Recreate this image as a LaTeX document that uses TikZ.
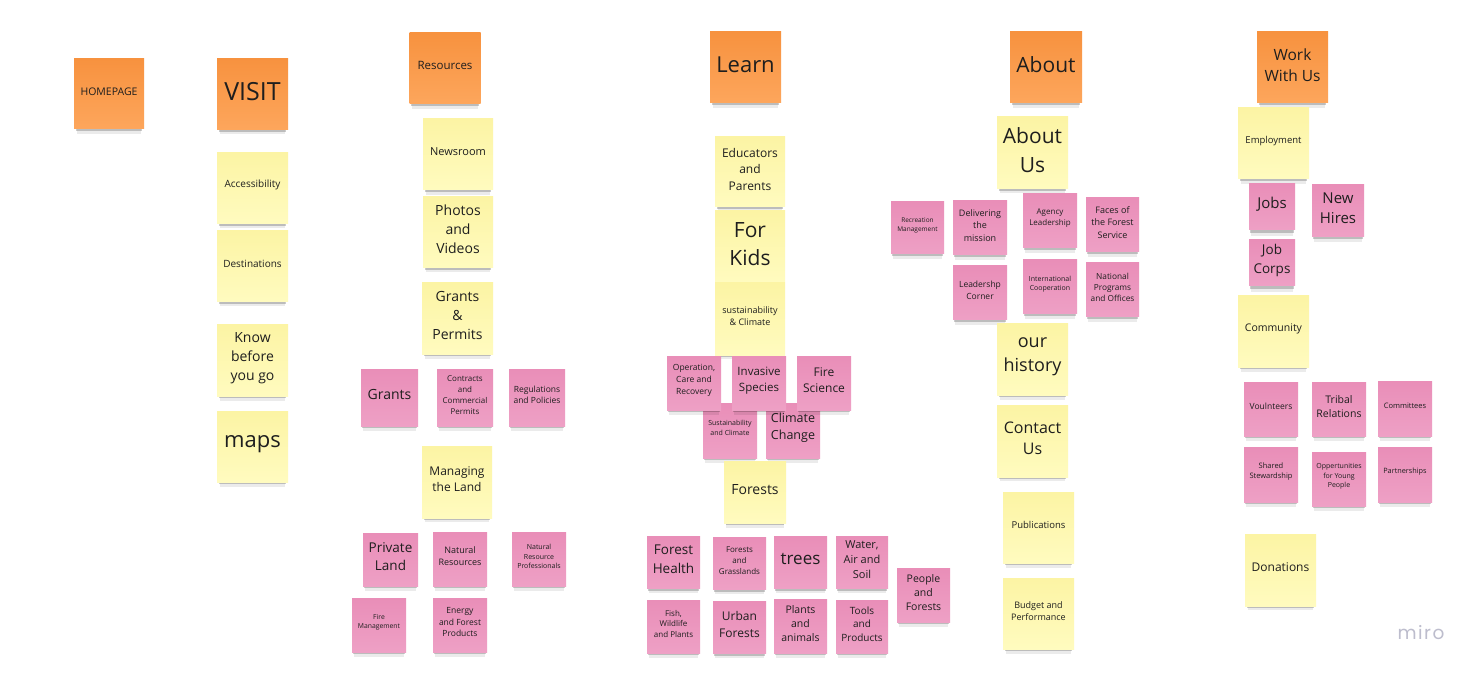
\documentclass[tikz,border=0pt]{standalone}
\usepackage{fontspec}
\setmainfont{Open Sans}
\newfontfamily\brandfont[LetterSpace=8]{Poppins}
\usetikzlibrary{shadows}
\definecolor{orangeA}{HTML}{F7923F}
\definecolor{orangeB}{HTML}{FDA65C}
\definecolor{yellowA}{HTML}{FCF4A4}
\definecolor{yellowB}{HTML}{FFFBBF}
\definecolor{pinkA}{HTML}{E98EB8}
\definecolor{pinkB}{HTML}{EEA0C5}
\definecolor{ink}{HTML}{1E1E1E}
\definecolor{brandgrey}{HTML}{BDBDCD}
% font size with a roomy line spacing
\newcommand\fsz[1]{\pgfmathsetmacro\fszbl{1.36*#1}\fontsize{#1}{\fszbl}\selectfont}
\begin{document}
\begin{tikzpicture}[x=1pt,y=-1pt,
  note/.style={inner sep=0pt, minimum width=71pt, minimum height=71pt,
    general shadow={fill=black, opacity=.08, shadow yshift=-8pt, shadow scale=.92},
    general shadow={fill=black, opacity=.20, shadow yshift=-4pt, shadow scale=.95}},
  onote/.style={note, top color=orangeA, bottom color=orangeB},
  ynote/.style={note, top color=yellowA, bottom color=yellowB},
  pnote/.style={note, top color=pinkA, bottom color=pinkB,
    minimum width=54pt, minimum height=54pt},
  % the written text of a note, set a little above its middle
  notetext/.style={inner sep=0pt, align=center, text=ink, yshift=2.6pt},
  tx/.style 2 args={label={[notetext, font=\fsz{#1}]center:{#2}}},
]
\useasboundingbox[fill=white] (0,0) rectangle (1478,676);

% --- HOMEPAGE ---
\node[onote, minimum width=70pt, minimum height=70pt, tx={10.5}{HOMEPAGE}] (home) at (109,94) {};

% --- VISIT column ---
\node[onote, tx={25}{VISIT}] (visit) at (252.5,94) {};
\node[ynote, tx={10}{Accessibility}] (access) at (252.5,188) {};
\node[ynote, tx={10}{Destinations}] (dest) at (252.5,266) {};
\node[ynote, tx={14}{Know\\before\\you go}] (know) at (252.5,360.5) {};
\node[ynote, tx={22}{maps}] (maps) at (252.5,446.5) {};

% --- Resources column ---
\node[onote, tx={11.5}{Resources}] (res) at (445,68.5) {};
\node[ynote, minimum width=70pt, tx={11}{Newsroom}] (news) at (458,154.5) {};
\node[ynote, minimum width=70pt, tx={14}{Photos\\and\\Videos}] (photos) at (458,232) {};
\node[ynote, tx={14}{Grants\\\&\\Permits}] (gp) at (457.5,318.5) {};
\node[pnote, minimum width=57pt, minimum height=57pt, tx={14}{Grants}] (grants) at (389.5,397.5) {};
\node[pnote, minimum width=56pt, minimum height=57pt, tx={8}{Contracts\\and\\Commercial\\Permits}] (contracts) at (465,397.5) {};
\node[pnote, minimum width=56pt, minimum height=57pt, tx={8.5}{Regulations\\and Policies}] (regs) at (537,397.5) {};
\node[ynote, minimum width=70pt, minimum height=72pt, tx={12}{Managing\\the Land}] (manage) at (457,482) {};
\node[pnote, minimum width=55pt, minimum height=53pt, tx={13.5}{Private\\Land}] (private) at (390.5,559.5) {};
\node[pnote, tx={9}{Natural\\Resources}] (natres) at (460,559) {};
\node[pnote, tx={7}{Natural\\Resource\\Professionals}] (natpro) at (539,559) {};
\node[pnote, tx={6.8}{Fire\\Management}] (fire) at (379,625) {};
\node[pnote, tx={8.5}{Energy\\and Forest\\Products}] (energy) at (460,625) {};

% --- Learn column ---
\node[onote, tx={22}{Learn}] (learn) at (745.5,67.5) {};
\node[ynote, minimum width=70pt, minimum height=70pt, tx={12}{Educators\\and\\Parents}] (edu) at (750,172) {};
\node[ynote, minimum width=70pt, tx={21}{For\\Kids}] (kids) at (750,246.5) {};
\node[ynote, minimum width=70pt, minimum height=72pt, tx={9}{sustainability\\\& Climate}] (sust) at (750,319) {};
\node[pnote, minimum height=55pt, tx={7}{Sustainability\\and Climate}] (sustc) at (730,430.5) {};
\node[pnote, minimum height=55pt, tx={12.5}{Climate\\Change}] (climate) at (793,430.5) {};
\node[pnote, tx={8.5}{Operation,\\Care and\\Recovery}] (ops) at (694,383) {};
\node[pnote, tx={11.5}{Invasive\\Species}] (invasive) at (759,383) {};
\node[pnote, tx={12}{Fire\\Science}] (firesci) at (824,383) {};
\node[ynote, minimum width=62pt, minimum height=62pt, tx={14}{Forests}] (forests) at (755,492) {};
\node[pnote, minimum width=53pt, minimum height=52pt, tx={13.5}{Forest\\Health}] (fhealth) at (673.5,562) {};
\node[pnote, minimum width=53pt, minimum height=52pt, tx={8}{Forests\\and\\Grasslands}] (fgrass) at (739.5,563) {};
\node[pnote, minimum width=53pt, minimum height=52pt, tx={17}{trees}] (trees) at (800.5,562) {};
\node[pnote, minimum width=52pt, minimum height=52pt, tx={11}{Water,\\Air and\\Soil}] (water) at (862,562) {};
\node[pnote, minimum width=53pt, tx={10.5}{People\\and\\Forests}] (people) at (923.5,595) {};
\node[pnote, minimum width=53pt, minimum height=53pt, tx={8}{Fish,\\Wildlife\\and Plants}] (fish) at (673.5,626.5) {};
\node[pnote, minimum width=53pt, minimum height=52pt, tx={12}{Urban\\Forests}] (urban) at (739.5,627) {};
\node[pnote, minimum width=53pt, tx={10.5}{Plants\\and\\animals}] (plants) at (800.5,626) {};
\node[pnote, minimum width=52pt, minimum height=53pt, tx={10}{Tools\\and\\Products}] (tools) at (862,626.5) {};

% --- About column ---
\node[onote, minimum width=72pt, tx={21}{About}] (about) at (1046,67.5) {};
\node[ynote, minimum height=72pt, tx={21}{About\\Us}] (aboutus) at (1032.5,153) {};
\node[pnote, minimum width=53pt, minimum height=52pt, tx={6.5}{Recreation\\Management}] (recr) at (917.5,228) {};
\node[pnote, tx={9}{Delivering\\the\\mission}] (deliver) at (980,228) {};
\node[pnote, tx={8}{Agency\\Leadership}] (agency) at (1050,221) {};
\node[pnote, minimum width=53pt, tx={9}{Faces of\\the Forest\\Service}] (faces) at (1112.5,225) {};
\node[pnote, tx={8.5}{Leadershp\\Corner}] (lcorner) at (980,293) {};
\node[pnote, tx={7}{International\\Cooperation}] (intl) at (1050,287) {};
\node[pnote, minimum width=53pt, tx={8.3}{National\\Programs\\and Offices}] (natprog) at (1112.5,290) {};
\node[ynote, tx={18}{our\\history}] (history) at (1032.5,359.5) {};
\node[ynote, minimum height=72pt, tx={16}{Contact\\Us}] (contact) at (1032.5,441) {};
\node[ynote, tx={9.5}{Publications}] (pubs) at (1038.5,527.5) {};
\node[ynote, tx={9}{Budget and\\Performance}] (budget) at (1038.5,613.5) {};

% --- Work With Us column ---
\node[onote, tx={15.5}{Work\\With Us}] (work) at (1292.5,67.5) {};
\node[ynote, tx={9.5}{Employment}] (employ) at (1273.5,143.5) {};
\node[pnote, minimum width=46pt, minimum height=46pt, tx={15}{Jobs}] (jobs) at (1272,207) {};
\node[pnote, minimum width=52pt, minimum height=52pt, tx={15}{New\\Hires}] (hires) at (1338,211) {};
\node[pnote, minimum width=46pt, minimum height=46pt, tx={13.5}{Job\\Corps}] (corps) at (1272,263) {};
\node[ynote, tx={10.5}{Community}] (community) at (1273.5,331.5) {};
\node[pnote, tx={8.5}{Voulnteers}] (volunteer) at (1271,409) {};
\node[pnote, tx={10.5}{Tribal\\Relations}] (tribal) at (1339,409) {};
\node[pnote, minimum height=55pt, tx={7.5}{Committees}] (committees) at (1405,408.5) {};
\node[pnote, minimum height=55pt, tx={7.5}{Shared\\Stewardship}] (shared) at (1271,474.5) {};
\node[pnote, tx={7}{Oppertunities\\for Young\\People}] (young) at (1339,479) {};
\node[pnote, minimum height=55pt, tx={7.3}{Partnerships}] (partner) at (1405,474.5) {};
\node[ynote, minimum height=72pt, tx={12}{Donations}] (donate) at (1280.5,570) {};

% --- board brand mark ---
\node[inner sep=0pt, text=brandgrey, font=\brandfont\fontsize{18.5}{20}\selectfont] (brand) at (1421,633) {miro};
\end{tikzpicture}
\end{document}
